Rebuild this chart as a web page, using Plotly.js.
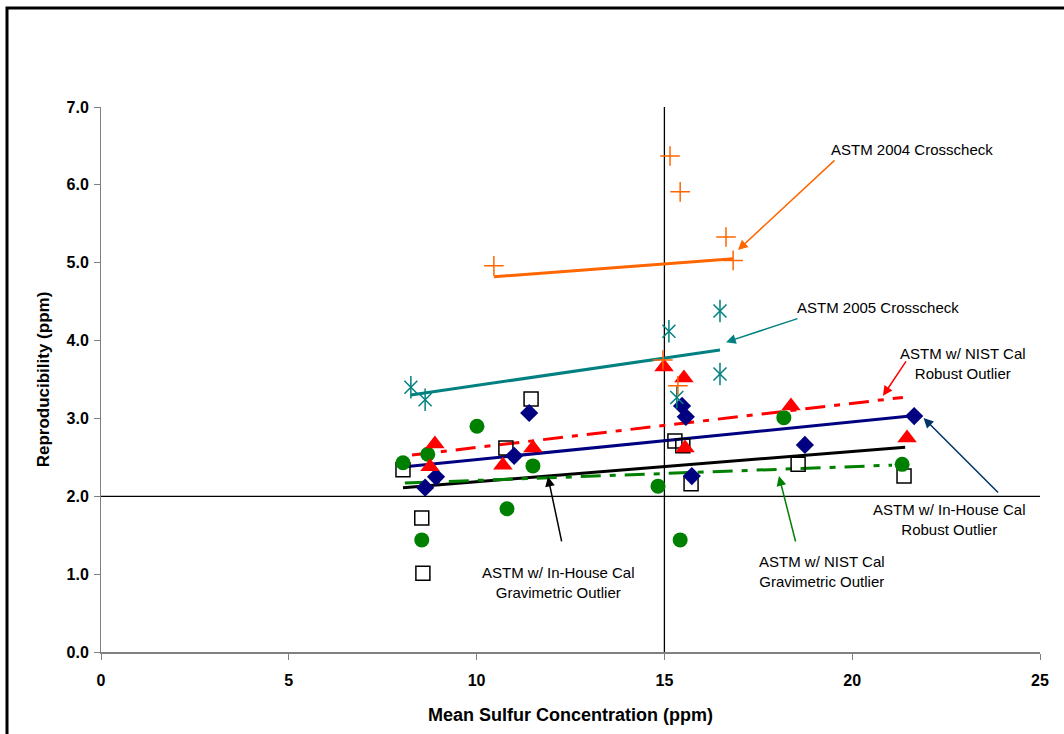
<!DOCTYPE html>
<html>
<head>
<meta charset="utf-8">
<script src="https://cdn.plot.ly/plotly-3.0.1.min.js"></script>
<style>html,body{margin:0;padding:0;background:#fff;}#chart{width:1064px;height:734px;}</style>
</head>
<body>
<div id="chart"></div>
<script>
// ASTM 2004 Crosscheck
const x2004 = [10.46, 15.15, 15.42, 16.64, 16.83, 15.36, 14.96];
const y2004 = [4.96, 6.37, 5.91, 5.33, 5.03, 3.42, 3.75];
const fit2004X = [10.46, 16.83];
const fit2004Y = [4.82, 5.05];
// ASTM 2005 Crosscheck
const x2005 = [8.25, 8.63, 15.12, 16.48, 16.48, 15.33];
const y2005 = [3.40, 3.24, 4.12, 4.38, 3.57, 3.27];
const fit2005X = [8.25, 16.48];
const fit2005Y = [3.30, 3.88];
// ASTM w/ NIST Cal Robust Outlier
const xNistRob = [8.89, 8.76, 10.70, 11.50, 14.99, 15.52, 15.55, 18.37, 21.46];
const yNistRob = [2.67, 2.38, 2.40, 2.62, 3.66, 3.52, 2.62, 3.16, 2.75];
const fitNistRobX = [8.28, 21.35];
const fitNistRobY = [2.53, 3.27];
// ASTM w/ In-House Cal Robust Outlier
const xInRob = [8.63, 8.92, 11.00, 11.40, 15.47, 15.57, 15.73, 18.74, 21.65];
const yInRob = [2.11, 2.25, 2.52, 3.07, 3.16, 3.02, 2.26, 2.66, 3.03];
const fitInRobX = [8.09, 21.55];
const fitInRobY = [2.38, 3.03];
// ASTM w/ In-House Cal Gravimetric Outlier
const xInGrav = [8.04, 8.54, 8.57, 10.78, 11.45, 15.28, 15.49, 15.71, 18.56, 21.38];
const yInGrav = [2.34, 1.72, 1.01, 2.62, 3.25, 2.71, 2.65, 2.16, 2.41, 2.26];
const fitInGravX = [8.04, 21.41];
const fitInGravY = [2.11, 2.63];
// ASTM w/ NIST Cal Gravimetric Outlier
const xNistGrav = [8.04, 8.70, 10.01, 11.50, 10.81, 8.54, 14.83, 18.18, 15.42, 21.33];
const yNistGrav = [2.43, 2.54, 2.90, 2.39, 1.84, 1.44, 2.13, 3.01, 1.44, 2.41];
const fitNistGravX = [8.09, 21.06];
const fitNistGravY = [2.17, 2.40];
// reference lines
const refX = 15;
const refY = 2;
const xTicks = [0, 5, 10, 15, 20, 25];
const yTicks = [0, 1, 2, 3, 4, 5, 6, 7];
const yTickText = ['0.0', '1.0', '2.0', '3.0', '4.0', '5.0', '6.0', '7.0'];

const ORANGE = '#FF6600', TEAL = '#008080', RED = '#FF0000', NAVY = '#000080', GREEN = '#008000';

function pts(x, y, marker, name) {
  return {x: x, y: y, type: 'scatter', mode: 'markers', marker: marker, name: name, showlegend: false, hoverinfo: 'x+y'};
}
function fit(x, y, color, dash, name) {
  return {x: x, y: y, type: 'scatter', mode: 'lines', line: {color: color, width: 3, dash: dash}, name: name, showlegend: false, hoverinfo: 'skip'};
}

const traces = [
  {x: [refX, refX], y: [0, 7], type: 'scatter', mode: 'lines', line: {color: '#000', width: 1.3}, showlegend: false, hoverinfo: 'skip'},
  {x: [0, 25], y: [refY, refY], type: 'scatter', mode: 'lines', line: {color: '#000', width: 1.3}, showlegend: false, hoverinfo: 'skip'},
  fit(fit2004X, fit2004Y, ORANGE, 'solid', 'fit 2004'),
  fit(fit2005X, fit2005Y, TEAL, 'solid', 'fit 2005'),
  fit(fitNistRobX, fitNistRobY, RED, '20px,9px,6px,9px', 'fit NIST robust'),
  fit(fitInRobX, fitInRobY, NAVY, 'solid', 'fit in-house robust'),
  fit(fitInGravX, fitInGravY, '#000', 'solid', 'fit in-house grav'),
  fit(fitNistGravX, fitNistGravY, GREEN, '20px,9px,6px,9px', 'fit NIST grav'),
  pts(xInGrav, yInGrav, {symbol: 'square-open', size: 14, color: '#000', line: {width: 1.5, color: '#000'}}, 'ASTM w/ In-House Cal Gravimetric Outlier'),
  pts(xNistGrav, yNistGrav, {symbol: 'circle', size: 15, color: GREEN}, 'ASTM w/ NIST Cal Gravimetric Outlier'),
  pts(xInRob, yInRob, {symbol: 'diamond', size: 14, color: NAVY}, 'ASTM w/ In-House Cal Robust Outlier'),
  pts(xNistRob, yNistRob, {symbol: 'triangle-up', size: 17, color: RED}, 'ASTM w/ NIST Cal Robust Outlier'),
  pts(x2005, y2005, {symbol: 'x-thin-open', size: 13, color: TEAL, line: {width: 1.5, color: TEAL}}, 'ASTM 2005 Crosscheck'),
  pts(x2005, y2005, {symbol: 'line-ns-open', size: 16, color: TEAL, line: {width: 1.5, color: TEAL}}, 'ASTM 2005 Crosscheck'),
  pts(x2004, y2004, {symbol: 'cross-thin-open', size: 14, color: ORANGE, line: {width: 1.5, color: ORANGE}}, 'ASTM 2004 Crosscheck')
];

const TF = {family: 'Liberation Sans, Arial, sans-serif', size: 15, color: '#000'};
function label(x, y, text) {
  return {x: x, y: y, xref: 'x', yref: 'y', text: text, showarrow: false, font: TF, align: 'center', xanchor: 'center', yanchor: 'middle'};
}
function arrow(x, y, ax, ay, color) {
  return {x: x, y: y, xref: 'x', yref: 'y', ax: ax, ay: ay, text: '', showarrow: true, arrowhead: 2, arrowsize: 1.3, arrowwidth: 1.5, arrowcolor: color, standoff: 0, startstandoff: 0};
}

const layout = {
  width: 1064, height: 734,
  margin: {l: 101, r: 24, t: 107, b: 82, pad: 0},
  paper_bgcolor: '#fff', plot_bgcolor: '#fff',
  font: {family: 'Liberation Sans, Arial, sans-serif', color: '#000'},
  showlegend: false,
  xaxis: {
    range: [0, 25], tickvals: xTicks, ticktext: xTicks.map(String),
    showgrid: false, zeroline: false, showline: true, linecolor: '#808080', linewidth: 2,
    ticks: 'outside', ticklen: 6, tickcolor: '#808080', tickwidth: 1, ticklabelstandoff: 7,
    tickfont: {family: 'Liberation Sans, Arial, sans-serif', size: 16, color: '#000', weight: 'bold'},
    title: {text: '<b>Mean Sulfur Concentration (ppm)</b>', font: {family: 'Liberation Sans, Arial, sans-serif', size: 18, color: '#000'}, standoff: 20},
    fixedrange: true
  },
  yaxis: {
    range: [0, 7], tickvals: yTicks, ticktext: yTickText,
    showgrid: false, zeroline: false, showline: true, linecolor: '#808080', linewidth: 1,
    ticks: 'outside', ticklen: 6, tickcolor: '#808080', tickwidth: 1, ticklabelstandoff: 2,
    tickfont: {family: 'Liberation Sans, Arial, sans-serif', size: 16, color: '#000', weight: 'bold'},
    title: {text: '<b>Reproducibility (ppm)</b>', font: {family: 'Liberation Sans, Arial, sans-serif', size: 17, color: '#000'}, standoff: 12},
    fixedrange: true
  },
  shapes: [
    {type: 'rect', xref: 'paper', yref: 'paper', x0: -0.1001, x1: 1.04, y0: -0.17, y1: 1.1817, line: {color: '#000', width: 3}, fillcolor: 'rgba(0,0,0,0)', layer: 'above'}
  ],
  annotations: [
    label(21.59, 6.45, 'ASTM 2004 Crosscheck'),
    label(20.69, 4.43, 'ASTM 2005 Crosscheck'),
    label(22.95, 3.70, 'ASTM w/ NIST Cal<br>Robust Outlier'),
    label(22.60, 1.70, 'ASTM w/ In-House Cal<br>Robust Outlier'),
    label(19.20, 1.04, 'ASTM w/ NIST Cal<br>Gravimetric Outlier'),
    label(12.17, 0.89, 'ASTM w/ In-House Cal<br>Gravimetric Outlier'),
    arrow(16.96, 5.163, 98, -91, ORANGE),
    arrow(16.64, 3.98, 73, -24, TEAL),
    arrow(20.82, 3.29, 24, -36, RED),
    arrow(21.90, 3.005, 76, 76, '#003366'),
    arrow(18.05, 2.26, 17, 67, GREEN),
    arrow(11.90, 2.25, 14, 66, '#000')
  ]
};

Plotly.newPlot('chart', traces, layout, {displayModeBar: false, staticPlot: true});
</script>
</body>
</html>
